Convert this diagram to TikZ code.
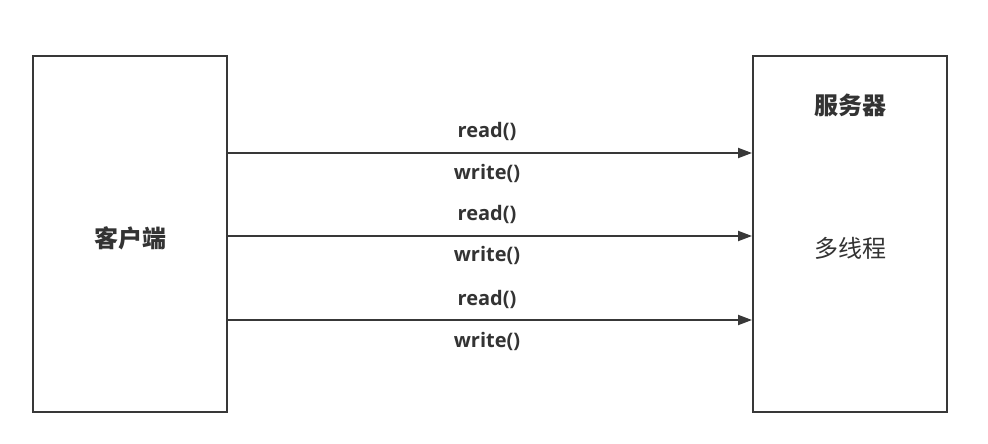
\documentclass[tikz,border=0pt]{standalone}
\usepackage{fontspec}
\setmainfont{Open Sans}
\newfontfamily\cjk{Noto Sans CJK SC}
\usetikzlibrary{arrows.meta}
\definecolor{ink}{HTML}{383838}
\definecolor{txt}{HTML}{333333}
\tikzset{
  box/.style={draw=ink, line width=2pt, minimum width=194pt, minimum height=356pt, inner sep=0pt},
  arr/.style={draw=ink, line width=2pt, -{Triangle[length=14pt,width=10pt]}},
  lbl/.style={text=txt, font=\fontsize{20}{23}\selectfont\bfseries, inner sep=0pt},
  cjkbold/.style={text=txt, font=\cjk\fontsize{24}{28}\selectfont\bfseries, inner sep=0pt},
  cjkreg/.style={text=txt, font=\cjk\fontsize{24}{28}\selectfont, inner sep=0pt}
}
\begin{document}
\begin{tikzpicture}[x=1pt,y=-1pt]
\useasboundingbox[fill=white] (0,0) rectangle (988,444);
\node[box] (client) at (130,234) {};
\node[box] (server) at (850,234) {};
\node[cjkbold] (clientlabel) at (130,238) {客户端};
\node[cjkbold] (servertitle) at (850,105) {服务器};
\node[cjkreg] (serverbody) at (850,248) {多线程};
\draw[arr] (client.east |- 0,153) -- (server.west |- 0,153);
\draw[arr] (client.east |- 0,236) -- (server.west |- 0,236);
\draw[arr] (client.east |- 0,320) -- (server.west |- 0,320);
\node[lbl] (r1) at (487,131) {read()};
\node[lbl] (w1) at (487,173) {write()};
\node[lbl] (r2) at (487,214) {read()};
\node[lbl] (w2) at (487,255) {write()};
\node[lbl] (r3) at (487,299) {read()};
\node[lbl] (w3) at (487,341) {write()};
\end{tikzpicture}
\end{document}
